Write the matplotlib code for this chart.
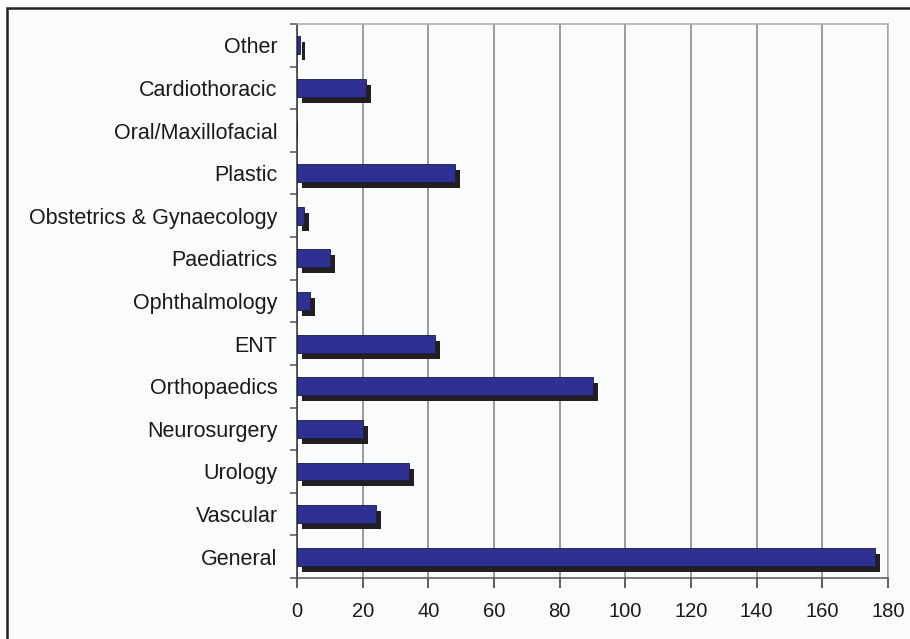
import matplotlib
matplotlib.use("Agg")
import matplotlib.pyplot as plt
import matplotlib.transforms as mtransforms
from matplotlib.patches import Rectangle

# ------------------------------------------------------------------
# Data (bottom to top, as drawn)
# ------------------------------------------------------------------
specialties = [
    "General", "Vascular", "Urology", "Neurosurgery", "Orthopaedics",
    "ENT", "Ophthalmology", "Paediatrics", "Obstetrics & Gynaecology",
    "Plastic", "Oral/Maxillofacial", "Cardiothoracic", "Other",
]
counts = [176, 24, 34, 20, 90, 42, 4, 10, 2, 48, 0, 21, 1]
x_ticks = [0, 20, 40, 60, 80, 100, 120, 140, 160, 180]

bar_blue = "#2e3192"
shadow = "#231f20"
bg = "#fafcfc"

plt.rcParams["font.family"] = ["Liberation Sans", "DejaVu Sans"]

fig = plt.figure(figsize=(9.1, 6.39), dpi=100, facecolor=bg)
ax = fig.add_axes([297 / 910, 1 - 578 / 639, 591 / 910, 554 / 639])
ax.set_facecolor(bg)

ypos = list(range(len(specialties)))

# shadow bars, shifted right/down by a few pixels
shift = mtransforms.offset_copy(ax.transData, fig=fig, x=5, y=-6, units="dots")
ax.barh(ypos, counts, height=0.42, color=shadow, linewidth=0,
        transform=shift, zorder=3)
ax.barh(ypos, counts, height=0.42, color=bar_blue, edgecolor="#1a1a40",
        linewidth=0.6, zorder=4)

ax.set_xlim(0, 180)
ax.set_ylim(-0.5, len(specialties) - 0.5)
ax.set_xticks(x_ticks)
ax.set_yticks(ypos)
ax.set_yticklabels(specialties)
ax.set_yticks([y + 0.5 for y in ypos[:-1]] + [-0.5, len(ypos) - 0.5], minor=True)

ax.grid(axis="x", color="#7f7f7f", linewidth=1.1, zorder=1)
ax.tick_params(axis="y", which="major", length=0, pad=14, labelsize=15.5,
               labelcolor="#1a1a1a")
ax.tick_params(axis="y", which="minor", length=5, width=1.1, color="#555555")
ax.tick_params(axis="x", length=7, width=1.1, color="#333333", pad=10,
               labelsize=14.5, labelcolor="#1a1a1a")

for side in ("top", "right"):
    ax.spines[side].set_color("#a8a8b8")
    ax.spines[side].set_linewidth(1.1)
ax.spines["left"].set_color("#333333")
ax.spines["bottom"].set_color("#555555")
ax.spines["left"].set_linewidth(1.1)
ax.spines["bottom"].set_linewidth(1.1)

# outer frame, only top and left edges fall inside the picture
fig.patches.append(Rectangle((7 / 910, -0.1), 1.2, 1.1 - 8 / 639,
                             transform=fig.transFigure, fill=False,
                             edgecolor="#222222", linewidth=1.8))

fig.savefig("out.png", dpi=100, facecolor=bg)
